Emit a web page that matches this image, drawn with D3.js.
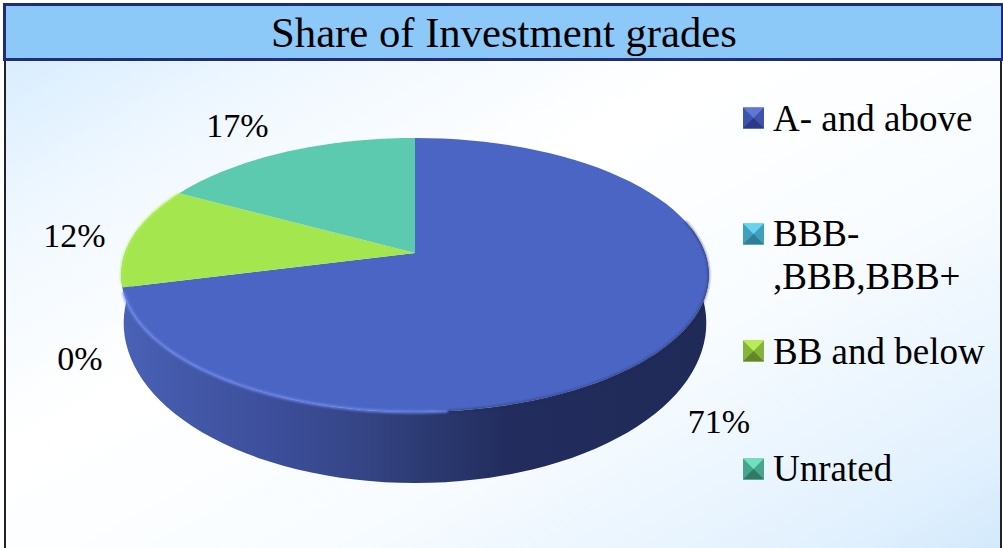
<!DOCTYPE html>
<html><head><meta charset="utf-8">
<script src="https://cdn.jsdelivr.net/npm/d3@7"></script>
<style>html,body{margin:0;padding:0;background:#fff}svg{display:block}text{font-family:"Liberation Serif",serif;fill:#000}</style>
</head><body><svg id="c" width="1003" height="548"></svg>
<script>
const titleText = "Share of Investment grades";
const categories = ["A- and above","BBB-\n,BBB,BBB+","BB and below","Unrated"];
const shares = [71,0,12,17];
const topColors = ["#4b65c4","#4bb4d0","#a4e64e","#5ccaae"];
const legendColors = [["#3f52ac","#5f78d4","#2b3a86"],["#3f9fbd","#66d4ee","#2f7f98"],["#86b43a","#bcec54","#62862a"],["#46a68c","#6fe0c0","#2f7a66"]];

const svg = d3.select("#c"), defs = svg.append("defs");
const W = 1003, H = 548;

const bg = defs.append("linearGradient").attr("id","bg").attr("x1",0).attr("y1",0).attr("x2",1).attr("y2",1);
[[0,"#d8edff"],[0.16,"#f0f8ff"],[0.36,"#ffffff"],[0.6,"#f8fcff"],[0.85,"#e2f1fe"],[1,"#cbe5fb"]].forEach(s=>bg.append("stop").attr("offset",s[0]).attr("stop-color",s[1]));
const side = defs.append("linearGradient").attr("id","side").attr("gradientUnits","userSpaceOnUse").attr("x1",120).attr("x2",708).attr("y1",0).attr("y2",0);
[[0,"#4a62b6"],[0.1,"#4459aa"],[0.27,"#3c4e9a"],[0.42,"#344484"],[0.52,"#2c3a72"],[0.66,"#222d5e"],[1,"#1f2a57"]].forEach(s=>side.append("stop").attr("offset",s[0]).attr("stop-color",s[1]));
const blur = defs.append("filter").attr("id","soft").attr("x","-5%").attr("y","-5%").attr("width","110%").attr("height","110%");
blur.append("feGaussianBlur").attr("stdDeviation",1.2);

svg.append("rect").attr("x",5).attr("y",58).attr("width",996).attr("height",H).attr("fill","url(#bg)").attr("stroke","#222").attr("stroke-width",2);
svg.append("rect").attr("x",4.5).attr("y",4.5).attr("width",W).attr("height",55).attr("fill","#8cc8f8").attr("stroke","#1f2d78").attr("stroke-width",3);
svg.append("rect").attr("x",1001).attr("y",3).attr("width",2).attr("height",58).attr("fill","#1f2d78");
svg.append("text").attr("x",504).attr("y",47).attr("text-anchor","middle").attr("font-size",42.7).text(titleText);

// Pie with perspective projection
const cx=415, cy=253, a=133.5, b=290, k=-0.1606;
const proj=(t)=>{const u=Math.sin(t),v=-Math.cos(t),w=1+k*v;return [cx+b*u/w,cy+a*v/w];};
const toBase=(p)=>[414+(p[0]-414)*291.5/294, 323+(p[1]-275)*160/137];
const arcs=d3.pie().sort(null).value(d=>d)(shares);
const line=d3.line().curve(d3.curveLinear);
const sample=(s,e,n=80)=>d3.range(0,n+1).map(i=>proj(s+(e-s)*i/n));

// side wall, front half of the ellipse
const sStart=Math.PI/2-0.2, sEnd=3*Math.PI/2+0.2;
const frontTop=sample(sStart,sEnd);
const frontBot=frontTop.slice().reverse().map(toBase);
svg.append("path").attr("d",line(frontTop.concat(frontBot))+"Z").attr("fill","url(#side)");

// top slices
arcs.forEach((d,i)=>{
  if(d.endAngle-d.startAngle<=0) return;
  svg.append("path").attr("d",line([[cx,cy],...sample(d.startAngle,d.endAngle)])+"Z").attr("fill",topColors[i]);
});
// soft rims on the front edge
svg.append("path").attr("d",line(sample(Math.PI*0.42,Math.PI*0.98))).attr("fill","none").attr("stroke","#1f2a57").attr("stroke-width",2).attr("opacity",.55).attr("filter","url(#soft)");
svg.append("path").attr("d",line(sample(Math.PI*0.97,Math.PI*1.41))).attr("fill","none").attr("stroke","#6d88ea").attr("stroke-width",3).attr("opacity",.85).attr("filter","url(#soft)");
svg.append("path").attr("d",line(sample(Math.PI*1.43,Math.PI*1.66))).attr("fill","none").attr("stroke","#b6f060").attr("stroke-width",2).attr("opacity",.8).attr("filter","url(#soft)");

// data labels
const labelPos=[[719,421.5],[80,358.5],[74.5,235.5],[237.5,125.5]];
arcs.forEach((d,i)=>{
  svg.append("text").attr("x",labelPos[i][0]).attr("y",labelPos[i][1]+11).attr("text-anchor","middle").attr("font-size",34).text(d.value+"%");
});

// legend
const legendY=[118,234,351,469];
const legendBaseline=[131,246,364,481];
categories.forEach((c,i)=>{
  const y=legendY[i], x0=743, s=21;
  const g=svg.append("g");
  const x1=x0+s, y0=y-s/2, y1=y+s/2, mx=x0+s/2, my=y;
  const [mid,lt,dk]=legendColors[i];
  g.append("rect").attr("x",x0).attr("y",y0).attr("width",s).attr("height",s).attr("fill",mid);
  g.append("path").attr("d",line([[x0,y0],[x1,y0],[mx,my]])+"Z").attr("fill",lt);
  g.append("path").attr("d",line([[x0,y1],[x1,y1],[mx,my]])+"Z").attr("fill",dk);
  c.split("\n").forEach((t,j)=>g.append("text").attr("x",773).attr("y",legendBaseline[i]+j*43).attr("font-size",37).text(t));
});
</script></body></html>
